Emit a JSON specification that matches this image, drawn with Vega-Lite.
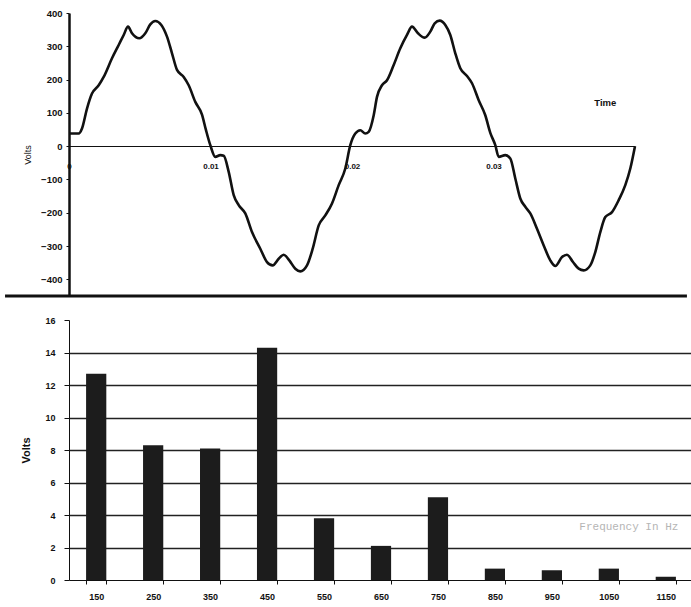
{
  "$schema": "https://vega.github.io/schema/vega-lite/v6.json",
  "padding": {"left": 3, "top": 8, "right": 0, "bottom": 4},
  "spacing": 18,
  "config": {
    "view": {"stroke": null},
    "font": "Liberation Sans",
    "axis": {"labelFont": "Liberation Sans", "titleFont": "Liberation Sans", "labelColor": "#111", "titleColor": "#111", "domainColor": "#111", "tickColor": "#111", "labelOverlap": false}
  },
  "datasets": {
    "wave": [
      {"t": 0.0, "v": 38}, {"t": 0.000686, "v": 38}, {"t": 0.000919, "v": 53}, {"t": 0.001272, "v": 113},
      {"t": 0.001625, "v": 158}, {"t": 0.002099, "v": 183}, {"t": 0.002452, "v": 208}, {"t": 0.003039, "v": 264},
      {"t": 0.003512, "v": 304}, {"t": 0.003866, "v": 334}, {"t": 0.00417, "v": 359}, {"t": 0.004452, "v": 339},
      {"t": 0.004968, "v": 324}, {"t": 0.005392, "v": 339}, {"t": 0.005746, "v": 366}, {"t": 0.006099, "v": 376},
      {"t": 0.006523, "v": 364}, {"t": 0.006926, "v": 329}, {"t": 0.007279, "v": 279}, {"t": 0.007633, "v": 229},
      {"t": 0.008106, "v": 208}, {"t": 0.008459, "v": 183}, {"t": 0.008926, "v": 133}, {"t": 0.009399, "v": 95},
      {"t": 0.009682, "v": 48}, {"t": 0.009986, "v": 3}, {"t": 0.010339, "v": -32}, {"t": 0.010693, "v": -27},
      {"t": 0.010933, "v": -29}, {"t": 0.011286, "v": -77}, {"t": 0.01164, "v": -147}, {"t": 0.011993, "v": -177},
      {"t": 0.012459, "v": -202}, {"t": 0.012933, "v": -258}, {"t": 0.013519, "v": -308}, {"t": 0.013993, "v": -348},
      {"t": 0.014396, "v": -358}, {"t": 0.01482, "v": -338}, {"t": 0.015173, "v": -326}, {"t": 0.015569, "v": -343},
      {"t": 0.015993, "v": -368}, {"t": 0.016346, "v": -376}, {"t": 0.01682, "v": -358}, {"t": 0.017223, "v": -308},
      {"t": 0.017647, "v": -238}, {"t": 0.018113, "v": -208}, {"t": 0.018587, "v": -172}, {"t": 0.01906, "v": -117},
      {"t": 0.019527, "v": -67}, {"t": 0.01988, "v": 3}, {"t": 0.020233, "v": 38}, {"t": 0.020587, "v": 48},
      {"t": 0.02094, "v": 38}, {"t": 0.02118, "v": 43}, {"t": 0.021534, "v": 93}, {"t": 0.021767, "v": 148},
      {"t": 0.02212, "v": 183}, {"t": 0.022473, "v": 198}, {"t": 0.022947, "v": 244}, {"t": 0.023413, "v": 294},
      {"t": 0.023887, "v": 334}, {"t": 0.02424, "v": 359}, {"t": 0.024664, "v": 339}, {"t": 0.025138, "v": 326},
      {"t": 0.025534, "v": 344}, {"t": 0.025845, "v": 369}, {"t": 0.026198, "v": 377}, {"t": 0.026594, "v": 364},
      {"t": 0.026947, "v": 334}, {"t": 0.0273, "v": 279}, {"t": 0.027654, "v": 234}, {"t": 0.028127, "v": 211},
      {"t": 0.028481, "v": 189}, {"t": 0.028954, "v": 138}, {"t": 0.02942, "v": 93}, {"t": 0.029774, "v": 40},
      {"t": 0.030127, "v": 3}, {"t": 0.030367, "v": -32}, {"t": 0.030834, "v": -27}, {"t": 0.031187, "v": -37},
      {"t": 0.031541, "v": -97}, {"t": 0.031894, "v": -157}, {"t": 0.032247, "v": -182}, {"t": 0.032601, "v": -202},
      {"t": 0.033074, "v": -248}, {"t": 0.033548, "v": -298}, {"t": 0.034014, "v": -343}, {"t": 0.034367, "v": -360},
      {"t": 0.034841, "v": -333}, {"t": 0.035194, "v": -326}, {"t": 0.035618, "v": -348}, {"t": 0.036021, "v": -368},
      {"t": 0.036375, "v": -373}, {"t": 0.036841, "v": -358}, {"t": 0.037194, "v": -318}, {"t": 0.037548, "v": -258},
      {"t": 0.037901, "v": -213}, {"t": 0.038375, "v": -198}, {"t": 0.038848, "v": -162}, {"t": 0.039314, "v": -117},
      {"t": 0.039668, "v": -67}, {"t": 0.04, "v": 0}
    ],
    "harm": [
      {"f": "150", "volts": 12.7}, {"f": "250", "volts": 8.3}, {"f": "350", "volts": 8.1},
      {"f": "450", "volts": 14.3}, {"f": "550", "volts": 3.8}, {"f": "650", "volts": 2.1},
      {"f": "750", "volts": 5.1}, {"f": "850", "volts": 0.7}, {"f": "950", "volts": 0.6},
      {"f": "1050", "volts": 0.7}, {"f": "1150", "volts": 0.2}
    ]
  },
  "vconcat": [
    {
      "width": 566,
      "height": 283,
      "layer": [
        {
          "data": {"name": "wave"},
          "mark": {"type": "line", "color": "#111", "strokeWidth": 2.6, "interpolate": "monotone"},
          "encoding": {
            "x": {
              "field": "t", "type": "quantitative",
              "scale": {"domain": [0, 0.04], "nice": false, "zero": false},
              "axis": {
                "orient": "bottom", "offset": -150, "values": [0, 0.01, 0.02, 0.03], "tickCount": 20, "format": ".2~f",
                "title": null, "ticks": false, "labelPadding": 16, "labelFontSize": 8, "labelFontWeight": "bold",
                "domainWidth": 1, "grid": false, "labelAlign": "center"
              }
            },
            "y": {
              "field": "v", "type": "quantitative",
              "scale": {"domain": [-450, 400], "nice": false, "zero": false},
              "axis": {
                "values": [-400, -300, -200, -100, 0, 100, 200, 300, 400], "tickCount": 20,
                "title": "Volts", "titleFontSize": 9, "titleFontWeight": "normal", "titlePadding": 8,
                "labelFontSize": 9.5, "labelFontWeight": "bold", "tickSize": 3, "domainWidth": 2.5,
                "grid": false, "labelPadding": 4
              }
            }
          }
        },
        {
          "data": {"values": [{"t1": -0.00452, "t2": 0.04367, "v": -450}]},
          "mark": {"type": "rule", "color": "#111", "strokeWidth": 3},
          "encoding": {
            "x": {"field": "t1", "type": "quantitative"},
            "x2": {"field": "t2"},
            "y": {"field": "v", "type": "quantitative"}
          }
        },
        {
          "data": {"values": [{"t": 0.0379, "v": 131, "label": "Time"}]},
          "mark": {"type": "text", "fontSize": 9.5, "fontWeight": "bold", "color": "#111", "align": "center", "baseline": "middle"},
          "encoding": {
            "x": {"field": "t", "type": "quantitative"},
            "y": {"field": "v", "type": "quantitative"},
            "text": {"field": "label"}
          }
        }
      ]
    },
    {
      "width": 624,
      "height": 260,
      "data": {"name": "harm"},
      "encoding": {
        "x": {
          "field": "f", "type": "nominal", "sort": null,
          "scale": {"paddingInner": 0.645, "paddingOuter": 0.3},
          "axis": {
            "title": null, "labelAngle": 0, "labelFontSize": 9, "labelFontWeight": "bold", "labelPadding": 8,
            "tickBand": "extent", "tickSize": 4, "domainWidth": 1
          }
        }
      },
      "layer": [
        {
          "mark": {"type": "bar", "color": "#1c1c1c"},
          "encoding": {
            "y": {
              "field": "volts", "type": "quantitative",
              "scale": {"domain": [0, 16], "nice": false},
              "axis": {
                "values": [0, 2, 4, 6, 8, 10, 12, 14, 16], "tickCount": 20, "title": "Volts", "titleFontSize": 11,
                "titleFontWeight": "bold", "titlePadding": 13, "labelFontSize": 9, "labelFontWeight": "bold",
                "tickSize": 5, "domainWidth": 1, "grid": true, "gridColor": "#222", "gridWidth": 1.3, "labelPadding": 9,
                "gridOpacity": {"condition": {"test": "datum.value == 16 || datum.value == 0", "value": 0}, "value": 1}
              }
            }
          }
        },
        {
          "data": {"values": [{"f": "1050", "volts": 3.25, "label": "Frequency In Hz"}]},
          "mark": {"type": "text", "fontSize": 11, "font": "Liberation Mono", "color": "#b5b5b5", "dx": 20, "align": "center", "baseline": "middle"},
          "encoding": {
            "y": {"field": "volts", "type": "quantitative"},
            "text": {"field": "label"}
          }
        }
      ]
    }
  ]
}
